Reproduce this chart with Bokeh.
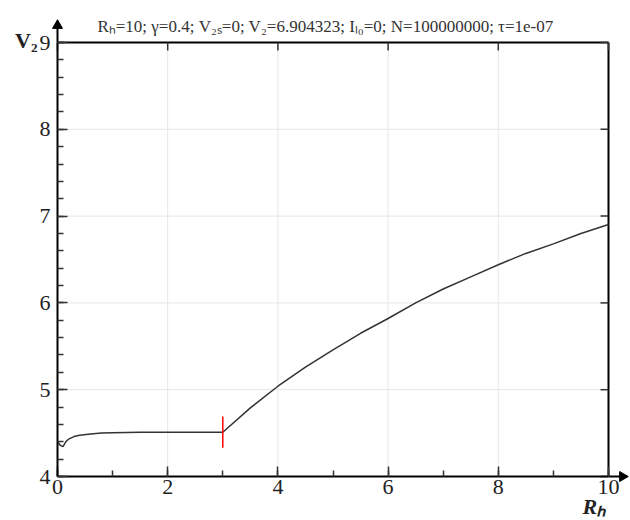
import math
from bokeh.plotting import figure
from bokeh.models import SingleIntervalTicker, Label, ColumnDataSource, Range1d
from bokeh.embed import file_html
from bokeh.resources import INLINE

# ---- data ----
rh = [0.0, 0.05, 0.1, 0.15, 0.2, 0.3, 0.4, 0.6, 0.8, 1.0, 1.5, 2.0, 2.5, 3.0,
      3.5, 4.0, 4.5, 5.0, 5.5, 6.0, 6.5, 7.0, 7.5, 8.0, 8.5, 9.0, 9.5, 10.0]
v2 = [4.40, 4.36, 4.345, 4.40, 4.43, 4.46, 4.475, 4.49, 4.50, 4.505, 4.51, 4.51, 4.51, 4.51,
      4.79, 5.04, 5.26, 5.46, 5.65, 5.82, 6.00, 6.16, 6.30, 6.44, 6.57, 6.68, 6.80, 6.904]

mark_x = [3.0]
mark_lo = [4.33]
mark_hi = [4.69]

x_ticks = [0, 2, 4, 6, 8, 10]
y_ticks = [4, 5, 6, 7, 8, 9]

title_text = "Rₕ=10; γ=0.4; V₂ₛ=0; V₂=6.904323; Iₗ₀=0; N=100000000; τ=1e-07"
xlabel = "Rₕ"
ylabel = "V₂"

XMIN, XMAX = 0, 10
YMIN, YMAX = 4, 9

W, H = 630, 520
BL, BR, BT, BB = 57, 22, 42, 44        # margins around the data box (px)
PPX = (W - BL - BR) / (XMAX - XMIN)   # pixels per x unit
PPY = (H - BT - BB) / (YMAX - YMIN)   # pixels per y unit

SERIF = "Liberation Serif"
INK = "#222222"

p = figure(width=W, height=H,
           x_range=Range1d(XMIN - BL / PPX, XMAX + BR / PPX),
           y_range=Range1d(YMIN - BB / PPY, YMAX + BT / PPY),
           output_backend="svg", toolbar_location=None,
           min_border_left=0, min_border_right=0, min_border_top=0, min_border_bottom=0,
           background_fill_color="white", border_fill_color="white")
p.outline_line_color = None
p.grid.visible = False

# faint grid inside the data box
p.segment(x0=x_ticks, y0=[YMIN] * len(x_ticks), x1=x_ticks, y1=[YMAX] * len(x_ticks),
          line_color="#e6e6e6", line_width=1)
p.segment(x0=[XMIN] * len(y_ticks), y0=y_ticks, x1=[XMAX] * len(y_ticks), y1=y_ticks,
          line_color="#e6e6e6", line_width=1)

# real axes, pinned to the data box
p.xaxis.fixed_location = YMIN
p.xaxis.bounds = (XMIN, XMAX)
p.yaxis.fixed_location = XMIN
p.yaxis.bounds = (YMIN, YMAX)
p.xaxis.ticker = SingleIntervalTicker(interval=2, num_minor_ticks=2)
p.yaxis.ticker = SingleIntervalTicker(interval=1, num_minor_ticks=5)
for ax in (p.xaxis[0], p.yaxis[0]):
    ax.axis_line_width = 2
    ax.axis_line_color = "black"
    ax.major_tick_in = 10
    ax.major_tick_out = 0
    ax.minor_tick_in = 6
    ax.minor_tick_out = 0
    ax.major_tick_line_color = "#333333"
    ax.minor_tick_line_color = "#333333"
    ax.major_tick_line_width = 1.5
    ax.minor_tick_line_width = 1.5
    ax.major_label_text_font = SERIF
    ax.major_label_text_font_size = "22px"
    ax.major_label_text_color = INK
p.xaxis.major_label_standoff = 3
p.yaxis.major_label_standoff = 7

# top and right edges of the box with inward ticks
TICK = 8
p.segment(x0=[XMIN, XMAX], y0=[YMAX, YMIN], x1=[XMAX, XMAX], y1=[YMAX, YMAX],
          line_color="black", line_width=2)
p.segment(x0=x_ticks, y0=[YMAX] * len(x_ticks), x1=x_ticks, y1=[YMAX - TICK / PPY] * len(x_ticks),
          line_color="#333333", line_width=1.5)
p.segment(x0=[XMAX] * len(y_ticks), y0=y_ticks, x1=[XMAX - TICK / PPX] * len(y_ticks), y1=y_ticks,
          line_color="#333333", line_width=1.5)

# axis arrows
YTIP = YMAX + 22 / PPY
XTIP = XMAX + 19 / PPX
p.segment(x0=[XMIN, XMAX], y0=[YMAX, YMIN], x1=[XMIN, XTIP - 6 / PPX], y1=[YTIP - 6 / PPY, YMIN],
          line_color="black", line_width=2)
p.scatter(x=[XMIN], y=[YTIP - 5 / PPY], marker="triangle", size=10,
          fill_color="black", line_color="black")
p.scatter(x=[XTIP - 5 / PPX], y=[YMIN], marker="triangle", size=10, angle=-math.pi / 2,
          fill_color="black", line_color="black")

# data
src = ColumnDataSource(dict(x=rh, y=v2))
p.line("x", "y", source=src, line_color="#333333", line_width=1.5)
p.segment(x0=mark_x, y0=mark_lo, x1=mark_x, y1=mark_hi, line_color="red", line_width=1.5)

# texts
p.add_layout(Label(x=XMIN + (325 - BL) / PPX, y=YMAX + 16 / PPY, text=title_text, text_font=SERIF,
                   text_font_size="17px", text_color="#333333",
                   text_align="center", text_baseline="middle"))
p.add_layout(Label(x=XMIN - 20 / PPX, y=YMAX + 2 / PPY, text=ylabel, text_font=SERIF,
                   text_font_size="22px", text_font_style="bold", text_color=INK,
                   text_align="right", text_baseline="middle"))
p.add_layout(Label(x=XMAX - 26 / PPX, y=YMIN - 30 / PPY, text=xlabel, text_font=SERIF,
                   text_font_size="22px", text_font_style="bold italic", text_color=INK,
                   text_align="left", text_baseline="middle"))

open("out.html", "w").write(file_html(p, INLINE))
